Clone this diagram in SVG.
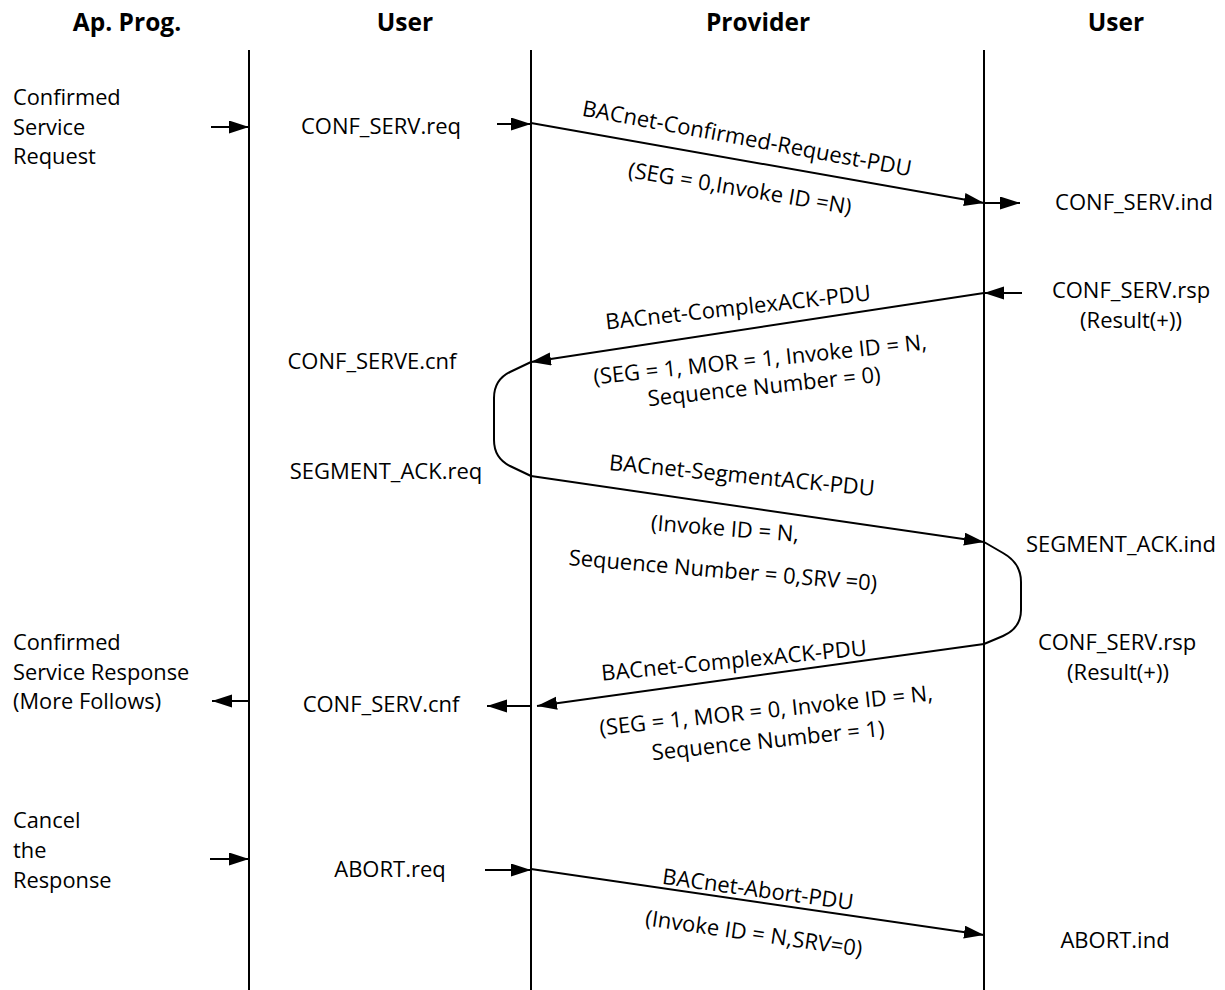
<svg xmlns="http://www.w3.org/2000/svg" width="1225" height="990" viewBox="0 0 1225 990">
<style>
text{font-family:"Open Sans","Noto Sans",sans-serif;fill:#000}
.h{font-size:24.5px;font-weight:bold;text-anchor:middle}
.l{font-size:21.8px}
.c{font-size:22px;text-anchor:middle}
.m{font-size:22px;text-anchor:middle}
.life{stroke:#000;stroke-width:2;fill:none}
.arr{stroke:#000;stroke-width:2;fill:none;marker-end:url(#ah)}
.loop{stroke:#000;stroke-width:2;fill:none}
</style>
<defs>
<marker id="ah" markerUnits="userSpaceOnUse" markerWidth="22" markerHeight="14" refX="20" refY="6.5" orient="auto">
<path d="M0,0 L20,6.5 L0,13 z" fill="#000"/>
</marker>
</defs>
<rect width="1225" height="990" fill="#fff"/>
<g id="headers">
<text class="h" x="127" y="31">Ap. Prog.</text>
<text class="h" x="405" y="31">User</text>
<text class="h" x="758" y="31">Provider</text>
<text class="h" x="1116" y="31">User</text>
</g>
<g id="lifelines">
<line class="life" x1="249" y1="50" x2="249" y2="990"/>
<line class="life" x1="531" y1="50" x2="531" y2="990"/>
<line class="life" x1="984" y1="50" x2="984" y2="990"/>
</g>
<g id="ap-labels">
<text class="l" x="13" y="105">Confirmed</text>
<text class="l" x="13" y="135">Service</text>
<text class="l" x="13" y="164">Request</text>
<text class="l" x="13" y="650">Confirmed</text>
<text class="l" x="13" y="680">Service Response</text>
<text class="l" x="13" y="709">(More Follows)</text>
<text class="l" x="13" y="828">Cancel</text>
<text class="l" x="13" y="858">the</text>
<text class="l" x="13" y="888">Response</text>
</g>
<g id="user-labels">
<text class="c" x="381" y="134">CONF_SERV.req</text>
<text class="c" x="372" y="369">CONF_SERVE.cnf</text>
<text class="c" x="386" y="479">SEGMENT_ACK.req</text>
<text class="c" x="381" y="712">CONF_SERV.cnf</text>
<text class="c" x="390" y="877">ABORT.req</text>
</g>
<g id="peer-labels">
<text class="c" x="1134" y="210">CONF_SERV.ind</text>
<text class="c" x="1131" y="298">CONF_SERV.rsp</text>
<text class="c" x="1131" y="328">(Result(+))</text>
<text class="c" x="1121" y="552">SEGMENT_ACK.ind</text>
<text class="c" x="1117" y="650">CONF_SERV.rsp</text>
<text class="c" x="1118" y="680">(Result(+))</text>
<text class="c" x="1115" y="948">ABORT.ind</text>
</g>
<g id="connectors">
<line class="arr" x1="211" y1="127" x2="249" y2="127"/>
<line class="arr" x1="497" y1="124" x2="531" y2="124"/>
<line class="arr" x1="531" y1="123" x2="984" y2="203"/>
<line class="arr" x1="984" y1="203" x2="1020" y2="203"/>
<line class="arr" x1="1022" y1="293" x2="984" y2="293"/>
<line class="arr" x1="984" y1="293" x2="531" y2="362"/>
<path class="loop" d="M531,362 L510,372 Q494,380 494,398 L494,440 Q494,458 510,466 L531,476"/>
<line class="arr" x1="531" y1="476" x2="984" y2="542"/>
<path class="loop" d="M984,542 L1003,553 Q1021,563 1021,582 L1021,610 Q1021,628 1003,636 L984,644"/>
<line class="arr" x1="984" y1="644" x2="537" y2="706"/>
<line class="arr" x1="531" y1="706" x2="487" y2="706"/>
<line class="arr" x1="249" y1="701" x2="212" y2="701"/>
<line class="arr" x1="210" y1="859" x2="249" y2="859"/>
<line class="arr" x1="485" y1="870" x2="531" y2="870"/>
<line class="arr" x1="531" y1="869" x2="984" y2="935"/>
</g>
<g id="message-labels">
<text class="m" transform="translate(747,138) rotate(10.5)" y="8">BACnet-Confirmed-Request-PDU</text>
<text class="m" transform="translate(740,188) rotate(9.5)" y="8">(SEG = 0,Invoke ID =N)</text>
<text class="m" transform="translate(738,307) rotate(-6.3)" y="8">BACnet-ComplexACK-PDU</text>
<text class="m" transform="translate(760,359) rotate(-6)" y="8">(SEG = 1, MOR = 1, Invoke ID = N,</text>
<text class="m" transform="translate(764,386) rotate(-6)" y="8">Sequence Number = 0)</text>
<text class="m" transform="translate(742,475) rotate(5.6)" y="8">BACnet-SegmentACK-PDU</text>
<text class="m" transform="translate(725,528) rotate(4.5)" y="8">(Invoke ID = N,</text>
<text class="m" transform="translate(723,570) rotate(4.8)" y="8">Sequence Number = 0,SRV =0)</text>
<text class="m" transform="translate(734,660) rotate(-5.5)" y="8">BACnet-ComplexACK-PDU</text>
<text class="m" transform="translate(766,710) rotate(-6)" y="8">(SEG = 1, MOR = 0, Invoke ID = N,</text>
<text class="m" transform="translate(768,740) rotate(-6)" y="8">Sequence Number = 1)</text>
<text class="m" transform="translate(758,889) rotate(7.8)" y="8">BACnet-Abort-PDU</text>
<text class="m" transform="translate(754,933) rotate(8.2)" y="8">(Invoke ID = N,SRV=0)</text>
</g>
</svg>
